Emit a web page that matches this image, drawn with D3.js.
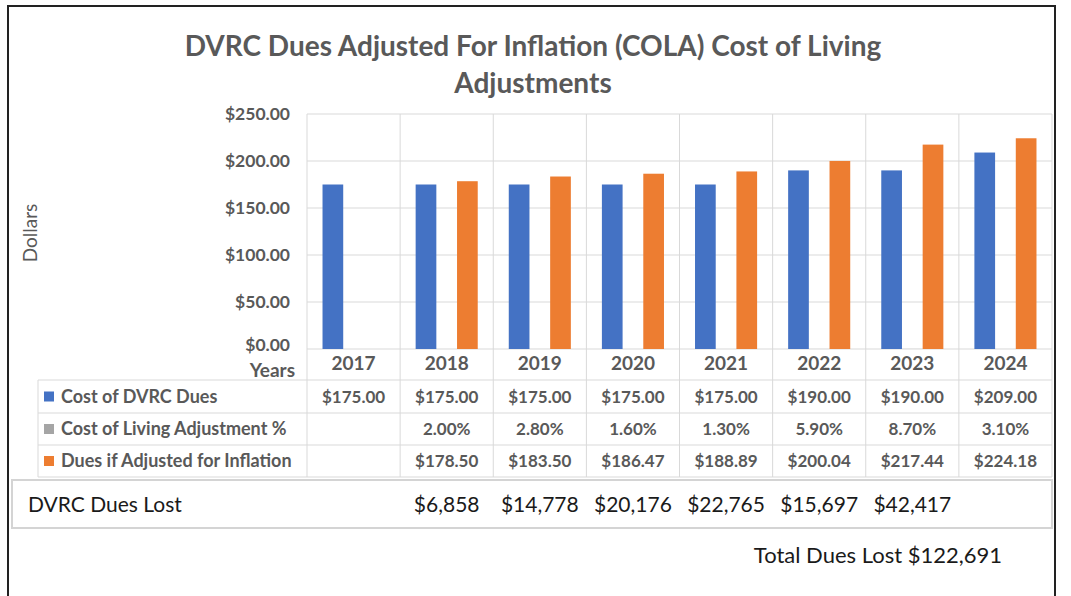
<!DOCTYPE html>
<html>
<head>
<meta charset="utf-8">
<script src="https://cdn.jsdelivr.net/npm/d3@7"></script>
<style>
  body { margin: 0; background: #fff; }
  text { font-family: Lato, "Open Sans", sans-serif; }
</style>
</head>
<body>
<script>
// screen width and height
var w = 1071;
var h = 596;

// chart data
var years = ["2017", "2018", "2019", "2020", "2021", "2022", "2023", "2024"];
var duesCost = [175, 175, 175, 175, 175, 190, 190, 209];
var colaPct = [null, 2.00, 2.80, 1.60, 1.30, 5.90, 8.70, 3.10];
var adjustedDues = [null, 178.50, 183.50, 186.47, 188.89, 200.04, 217.44, 224.18];
var duesLost = [null, 6858, 14778, 20176, 22765, 15697, 42417, null];
var totalLost = 122691;
var yTicks = [0, 50, 100, 150, 200, 250];
var seriesNames = ["Cost of DVRC Dues", "Cost of Living Adjustment %", "Dues if Adjusted for Inflation"];
var seriesColors = ["#4472C4", "#A5A5A5", "#ED7D31"];

var svg = d3.select("body")
  .append("svg")
  .attr("width", w)
  .attr("height", h);

// layout
var plotLeft = 307, plotRight = 1052, plotTop = 114, plotBottom = 349;
var tableLeft = 38;
var rowLines = [380, 413, 445, 477];

var x = d3.scaleBand().domain(years).range([plotLeft, plotRight]);
var xs = d3.scaleBand().domain(d3.range(3)).range([0, x.bandwidth()]).paddingOuter(0.75);
var y = d3.scaleLinear().domain([0, 250]).range([plotBottom, plotTop]);

var gray = "#595959";
var gridCol = "#d9d9d9";

// outer frame
svg.append("rect")
  .attr("x", 8).attr("y", 6)
  .attr("width", 1047).attr("height", 620)
  .attr("fill", "none")
  .attr("stroke", "#222")
  .attr("stroke-width", 2);

// title
svg.append("text")
  .attr("x", 533).attr("y", 56)
  .attr("text-anchor", "middle")
  .style("font-size", "28px").style("font-weight", "bold")
  .attr("fill", gray)
  .text("DVRC Dues Adjusted For Inflation (COLA) Cost of Living");
svg.append("text")
  .attr("x", 533).attr("y", 93)
  .attr("text-anchor", "middle")
  .style("font-size", "28px").style("font-weight", "bold")
  .attr("fill", gray)
  .text("Adjustments");

// y gridlines
svg.append("g").selectAll("line")
  .data(yTicks.filter(function(d) { return d > 0; }))
  .enter().append("line")
  .attr("x1", plotLeft).attr("x2", plotRight)
  .attr("y1", function(d) { return y(d); })
  .attr("y2", function(d) { return y(d); })
  .attr("stroke", gridCol);

// y axis labels
var yAxis = d3.axisLeft(y).tickValues(yTicks).tickSize(0).tickPadding(0)
  .tickFormat(function(d) { return "$" + d3.format(".2f")(d); });
var yg = svg.append("g").attr("transform", "translate(290,0)").call(yAxis);
yg.select(".domain").remove();
yg.selectAll("text")
  .style("font-size", "17.5px").style("font-weight", "bold")
  .style("font-family", "Lato, sans-serif")
  .attr("fill", gray);
// the $0.00 label sits a little higher, clear of "Years"
yg.selectAll(".tick").filter(function(d) { return d === 0; })
  .select("text").attr("dy", "0.1em");

// y title
svg.append("text")
  .attr("transform", "translate(37,233) rotate(-90)")
  .attr("text-anchor", "middle")
  .style("font-size", "19px")
  .attr("fill", gray)
  .text("Dollars");

// vertical lines between categories, through chart and table
var bounds = years.map(function(d) { return x(d); }).concat([plotRight]);
svg.append("g").selectAll("line")
  .data(bounds)
  .enter().append("line")
  .attr("x1", function(d) { return d; }).attr("x2", function(d) { return d; })
  .attr("y1", plotTop).attr("y2", rowLines[3])
  .attr("stroke", gridCol);

// x baseline
svg.append("line")
  .attr("x1", plotLeft).attr("x2", plotRight)
  .attr("y1", plotBottom).attr("y2", plotBottom)
  .attr("stroke", gridCol);

// bars
var barData = [];
years.forEach(function(yr, i) {
  var vals = [duesCost[i], colaPct[i] == null ? null : colaPct[i] / 100, adjustedDues[i]];
  vals.forEach(function(v, s) {
    if (v != null) barData.push({year: yr, s: s, v: v});
  });
});
svg.append("g").selectAll("rect")
  .data(barData)
  .enter().append("rect")
  .attr("x", function(d) { return x(d.year) + xs(d.s); })
  .attr("width", xs.bandwidth())
  .attr("y", function(d) { return y(d.v); })
  .attr("height", function(d) { return plotBottom - y(d.v); })
  .attr("fill", function(d) { return seriesColors[d.s]; });

// years row
svg.append("text")
  .attr("x", 295).attr("y", 377)
  .attr("text-anchor", "end")
  .style("font-size", "19px").style("font-weight", "bold")
  .attr("fill", gray)
  .text("Years");
svg.append("g").selectAll("text")
  .data(years)
  .enter().append("text")
  .attr("x", function(d) { return x(d) + x.bandwidth() / 2; })
  .attr("y", 370)
  .attr("text-anchor", "middle")
  .style("font-size", "19px").style("font-weight", "bold")
  .attr("fill", gray)
  .text(function(d) { return d; });

// table horizontal lines
svg.append("g").selectAll("line")
  .data(rowLines)
  .enter().append("line")
  .attr("x1", tableLeft).attr("x2", plotRight)
  .attr("y1", function(d) { return d; }).attr("y2", function(d) { return d; })
  .attr("stroke", gridCol);
svg.append("line")
  .attr("x1", tableLeft).attr("x2", tableLeft)
  .attr("y1", rowLines[0]).attr("y2", rowLines[3])
  .attr("stroke", gridCol);

// table rows
var fmtMoney = function(v) { return "$" + d3.format(".2f")(v); };
var fmtPct = function(v) { return d3.format(".2f")(v) + "%"; };
var rows = [
  {vals: duesCost, fmt: fmtMoney},
  {vals: colaPct, fmt: fmtPct},
  {vals: adjustedDues, fmt: fmtMoney}
];
rows.forEach(function(r, ri) {
  var cy = (rowLines[ri] + rowLines[ri + 1]) / 2;
  svg.append("rect")
    .attr("x", 44).attr("y", cy - 5)
    .attr("width", 10).attr("height", 10)
    .attr("fill", seriesColors[ri]);
  svg.append("text")
    .attr("x", 61).attr("y", cy + 6)
    .style("font-size", "18px").style("font-weight", "bold")
    .attr("fill", gray)
    .text(seriesNames[ri]);
  var cells = r.vals.map(function(v, i) { return {v: v, yr: years[i]}; })
    .filter(function(d) { return d.v != null; });
  svg.append("g").selectAll("text")
    .data(cells)
    .enter().append("text")
    .attr("x", function(d) { return x(d.yr) + x.bandwidth() / 2; })
    .attr("y", cy + 6)
    .attr("text-anchor", "middle")
    .style("font-size", "17px").style("font-weight", "bold")
    .attr("fill", gray)
    .text(function(d) { return r.fmt(d.v); });
});

// dues lost box
svg.append("rect")
  .attr("x", 12).attr("y", 480)
  .attr("width", plotRight - 12).attr("height", 48)
  .attr("fill", "none")
  .attr("stroke", "#d4d4d4")
  .attr("stroke-width", 2);
svg.append("text")
  .attr("x", 28).attr("y", 512)
  .style("font-size", "21px")
  .attr("fill", "#1a1a1a")
  .text("DVRC Dues Lost");
svg.append("g").selectAll("text")
  .data(duesLost.map(function(v, i) { return {v: v, yr: years[i]}; })
    .filter(function(d) { return d.v != null; }))
  .enter().append("text")
  .attr("x", function(d) { return x(d.yr) + x.bandwidth() / 2; })
  .attr("y", 512)
  .attr("text-anchor", "middle")
  .style("font-size", "21px")
  .attr("fill", "#1a1a1a")
  .text(function(d) { return "$" + d3.format(",")(d.v); });

// total
svg.append("text")
  .attr("x", 1002).attr("y", 563)
  .attr("text-anchor", "end")
  .style("font-size", "22px")
  .attr("fill", "#1a1a1a")
  .text("Total Dues Lost $" + d3.format(",")(totalLost));
</script>
</body>
</html>
